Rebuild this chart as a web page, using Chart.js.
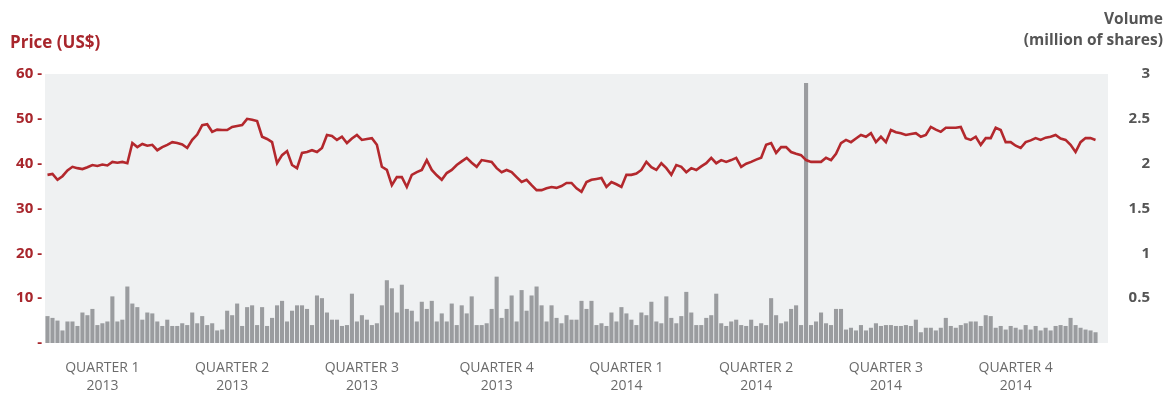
<!DOCTYPE html>
<html>
<head>
<meta charset="utf-8">
<script src="https://cdn.jsdelivr.net/npm/chart.js@4.4.1/dist/chart.umd.min.js"></script>
<style>
  body { margin: 0; background: #fff; }
  #wrap { position: relative; width: 1168px; height: 394px; }
  #wrap canvas { position: absolute; left: 0; top: 0; }
  .ttl { position: absolute; font-family: "Open Sans", sans-serif; font-weight: 700; z-index: 2; }
  #priceTitle { left: 10px; top: 30px; font-size: 17px; color: #a8262c; }
  #volTitle { right: 5px; top: 8px; font-size: 15.5px; line-height: 21px; color: #555; text-align: right; }
</style>
</head>
<body>
<div id="wrap">
  <div class="ttl" id="priceTitle">Price (US$)</div>
  <div class="ttl" id="volTitle">Volume<br>(million of shares)</div>
  <canvas id="stockChart" width="1168" height="394"></canvas>
</div>
<script>
// =======================
// DATA (one point about every 2 trading days, Jan 2013 - Dec 2014)
// =======================
const price = [
  37.5,37.7,36.4,37.2,38.5,39.3,39.0,38.8,39.2,39.7,
  39.5,39.8,39.6,40.4,40.2,40.4,40.1,44.6,43.7,44.4,
  44.0,44.2,43.0,43.7,44.2,44.8,44.6,44.3,43.5,45.3,
  46.5,48.6,48.8,47.1,47.6,47.5,47.5,48.2,48.4,48.6,
  50.0,49.8,49.5,46.0,45.5,44.8,40.1,41.9,42.8,39.7,
  39.0,42.4,42.6,43.0,42.6,43.5,46.4,46.2,45.3,46.0,
  44.6,45.6,46.4,45.3,45.5,45.7,44.2,39.3,38.6,35.2,
  37.0,37.0,34.8,37.5,38.1,38.6,40.8,38.6,37.4,36.4,
  37.9,38.6,39.7,40.5,41.3,40.2,39.3,40.8,40.6,40.4,
  39.0,38.1,38.6,38.1,37.0,35.9,36.4,35.2,34.1,34.1,
  34.5,34.8,34.6,35.0,35.7,35.7,34.5,33.7,35.9,36.4,
  36.6,36.8,34.8,35.9,35.4,34.8,37.5,37.5,37.8,38.6,
  40.4,39.2,38.6,40.1,39.0,37.5,39.7,39.3,38.1,39.0,
  38.6,39.4,40.1,41.3,40.1,40.8,40.4,40.8,41.3,39.3,
  40.0,40.4,40.9,41.3,44.2,44.6,42.4,43.7,43.7,42.6,
  42.2,41.9,40.8,40.4,40.4,40.4,41.3,40.8,42.2,44.6,
  45.3,44.8,45.6,46.4,46.0,46.8,44.8,46.0,44.8,47.5,
  47.0,46.8,46.4,46.6,46.8,46.0,46.4,48.2,47.6,47.1,
  48.0,48.0,48.0,48.2,45.7,45.3,46.0,44.2,45.7,45.7,
  48.0,47.5,44.8,44.8,44.0,43.5,44.8,45.2,45.7,45.3,
  45.8,46.0,46.4,45.6,45.3,44.2,42.6,44.8,45.7,45.7,
  45.3
];

const volume = [
  0.30,0.28,0.25,0.14,0.24,0.24,0.19,0.34,0.31,0.38,
  0.20,0.22,0.24,0.52,0.24,0.26,0.63,0.44,0.40,0.26,
  0.34,0.33,0.24,0.19,0.26,0.19,0.19,0.22,0.20,0.34,
  0.22,0.30,0.20,0.22,0.14,0.15,0.36,0.31,0.44,0.19,
  0.40,0.42,0.20,0.40,0.19,0.28,0.42,0.47,0.24,0.36,
  0.42,0.42,0.38,
  0.20,0.53,0.50,0.34,0.26,0.26,0.19,0.20,0.55,0.24,
  0.31,0.26,0.20,0.22,0.42,0.70,0.61,0.34,0.65,0.38,
  0.36,0.24,0.46,0.38,0.47,0.24,0.33,0.24,0.44,0.20,
  0.42,0.33,0.52,0.20,0.20,0.22,0.38,0.74,0.28,0.38,
  0.53,0.24,0.59,0.36,0.53,0.63,0.42,0.24,0.42,0.28,
  0.22,0.31,0.26,
  0.26,0.47,0.38,0.47,0.20,0.22,0.19,0.34,0.24,0.40,
  0.33,0.26,0.20,0.34,0.31,0.46,0.24,0.22,0.52,0.28,
  0.22,0.30,0.57,0.34,0.20,0.20,0.28,0.31,0.55,0.22,
  0.19,0.24,0.26,0.20,0.19,0.26,0.19,0.22,0.20,0.50,
  0.31,0.22,0.24,0.38,0.42,0.20,2.90,0.20,0.24,0.34,
  0.22,0.20,0.38,
  0.38,0.15,0.17,0.14,0.20,0.14,0.17,0.22,0.19,0.20,
  0.20,0.19,0.19,0.20,0.19,0.26,0.12,0.17,0.17,0.14,
  0.17,0.28,0.19,0.17,0.20,0.22,0.24,0.24,0.19,0.31,
  0.30,0.17,0.19,0.15,0.19,0.17,0.15,0.20,0.15,0.19,
  0.14,0.17,0.14,0.19,0.20,0.19,0.28,0.20,0.17,0.15,
  0.14,0.12
];

const quarterLabels = [
  ["QUARTER 1", "2013"], ["QUARTER 2", "2013"], ["QUARTER 3", "2013"], ["QUARTER 4", "2013"],
  ["QUARTER 1", "2014"], ["QUARTER 2", "2014"], ["QUARTER 3", "2014"], ["QUARTER 4", "2014"]
];
const quarterAt = [11, 37, 63, 90, 116, 142, 168, 194];

const priceTicks = [0, 10, 20, 30, 40, 50, 60];
const volumeTicks = [0, 0.5, 1, 1.5, 2, 2.5, 3];

// category labels, mostly blank; 2 empty slots at the end of the plot
const labels = [];
for (let i = 0; i < price.length + 2; i++) labels.push("");
quarterAt.forEach((idx, k) => { labels[idx] = quarterLabels[k]; });

// light gray plot background
const plotBg = {
  id: "plotBg",
  beforeDraw(chart) {
    const a = chart.chartArea;
    const c = chart.ctx;
    c.save();
    c.fillStyle = "#eff1f2";
    c.fillRect(a.left, a.top, a.right - a.left, a.bottom - a.top);
    c.restore();
  }
};

const ctx = document.getElementById("stockChart");

new Chart(ctx, {
  type: "bar",
  data: {
    labels: labels,
    datasets: [
      {
        type: "line",
        label: "Price",
        data: price,
        yAxisID: "yPrice",
        borderColor: "#b3282d",
        borderWidth: 2.6,
        pointRadius: 0,
        tension: 0,
        order: 1
      },
      {
        type: "bar",
        label: "Volume",
        data: volume,
        yAxisID: "yVol",
        backgroundColor: "#9a9c9f",
        barPercentage: 0.82,
        categoryPercentage: 1,
        order: 2
      }
    ]
  },
  options: {
    responsive: false,
    animation: false,
    layout: { padding: { top: 74, right: 18, left: 0, bottom: 0 } },
    plugins: { legend: { display: false }, tooltip: { enabled: false } },
    scales: {
      x: {
        grid: { display: false, drawTicks: false },
        border: { display: false },
        ticks: {
          autoSkip: false,
          maxRotation: 0,
          minRotation: 0,
          padding: 16,
          color: "#6b6b6b",
          font: { family: "Open Sans", size: 14, lineHeight: 1.3 }
        },
        afterFit(scale) { scale.height = 51; }
      },
      yPrice: {
        position: "left",
        min: 0,
        max: 60,
        afterBuildTicks(scale) { scale.ticks = priceTicks.map(v => ({ value: v })); },
        grid: { display: false, drawTicks: false },
        border: { display: false },
        ticks: {
          padding: 3,
          color: "#a8262c",
          font: { family: "Open Sans", size: 15, weight: "bold" },
          callback: v => (v === 0 ? "-" : v + " -")
        },
        afterFit(scale) { scale.width = 45; }
      },
      yVol: {
        position: "right",
        min: 0,
        max: 3,
        afterBuildTicks(scale) { scale.ticks = volumeTicks.map(v => ({ value: v })); },
        grid: { display: false, drawTicks: false },
        border: { display: false },
        ticks: {
          crossAlign: "far",
          color: "#555555",
          font: { family: "Open Sans", size: 15, weight: "bold" },
          callback: v => (v === 0 ? "" : v)
        },
        afterFit(scale) { scale.width = 42; }
      }
    }
  },
  plugins: [plotBg]
});
</script>
</body>
</html>
